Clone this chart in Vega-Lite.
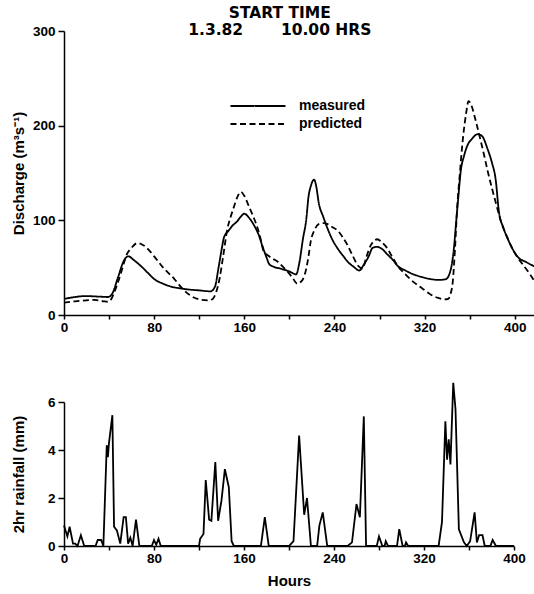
{
  "$schema": "https://vega.github.io/schema/vega-lite/v6.json",
  "background": "white",
  "padding": {"left": 10, "top": 5, "right": 0, "bottom": 5},
  "title": {
    "text": ["START TIME", "1.3.82\u00a0\u00a0\u00a0\u00a0\u00a0\u00a0\u00a010.00\u00a0HRS"],
    "font": "DejaVu Sans",
    "fontSize": 15.5,
    "fontWeight": "bold",
    "color": "black",
    "anchor": "middle",
    "lineHeight": 17,
    "offset": -14,
    "dx": 5
  },
  "config": {
    "view": {"stroke": null},
    "font": "Liberation Sans",
    "axis": {
      "grid": false,
      "domainColor": "black",
      "domainWidth": 1.5,
      "tickColor": "black",
      "tickWidth": 1.5,
      "tickSize": 6,
      "labelColor": "black",
      "labelFont": "Liberation Sans",
      "labelFontSize": 13.5,
      "labelFontWeight": "bold",
      "labelPadding": 3,
      "labelFlush": false,
      "labelOverlap": false,
      "titleColor": "black",
      "titleFont": "Liberation Sans",
      "titleFontSize": 15,
      "titleFontWeight": "bold"
    },
    "axisX": {"tickSize": 4, "labelPadding": 1}
  },
  "datasets": {
    "discharge": [
      {"t": 0, "q": 17, "series": "measured"},
      {"t": 10, "q": 19, "series": "measured"},
      {"t": 18, "q": 20, "series": "measured"},
      {"t": 30, "q": 19.5, "series": "measured"},
      {"t": 39, "q": 19, "series": "measured"},
      {"t": 43, "q": 23, "series": "measured"},
      {"t": 48, "q": 40, "series": "measured"},
      {"t": 53, "q": 57, "series": "measured"},
      {"t": 57, "q": 62, "series": "measured"},
      {"t": 62, "q": 58, "series": "measured"},
      {"t": 68, "q": 52, "series": "measured"},
      {"t": 74, "q": 45, "series": "measured"},
      {"t": 80, "q": 38, "series": "measured"},
      {"t": 88, "q": 33, "series": "measured"},
      {"t": 95, "q": 30, "series": "measured"},
      {"t": 104, "q": 28, "series": "measured"},
      {"t": 110, "q": 27, "series": "measured"},
      {"t": 120, "q": 26, "series": "measured"},
      {"t": 130, "q": 25, "series": "measured"},
      {"t": 134, "q": 30, "series": "measured"},
      {"t": 137, "q": 49, "series": "measured"},
      {"t": 140, "q": 70, "series": "measured"},
      {"t": 142, "q": 82, "series": "measured"},
      {"t": 146, "q": 89, "series": "measured"},
      {"t": 150, "q": 95, "series": "measured"},
      {"t": 153, "q": 98, "series": "measured"},
      {"t": 157, "q": 104, "series": "measured"},
      {"t": 160, "q": 107, "series": "measured"},
      {"t": 164, "q": 103, "series": "measured"},
      {"t": 169, "q": 94, "series": "measured"},
      {"t": 173, "q": 84, "series": "measured"},
      {"t": 176, "q": 73, "series": "measured"},
      {"t": 180, "q": 60, "series": "measured"},
      {"t": 182, "q": 54, "series": "measured"},
      {"t": 186, "q": 51, "series": "measured"},
      {"t": 192, "q": 49, "series": "measured"},
      {"t": 200, "q": 46, "series": "measured"},
      {"t": 206, "q": 43, "series": "measured"},
      {"t": 209, "q": 56, "series": "measured"},
      {"t": 212, "q": 80, "series": "measured"},
      {"t": 215, "q": 101, "series": "measured"},
      {"t": 217, "q": 125, "series": "measured"},
      {"t": 219, "q": 136, "series": "measured"},
      {"t": 222, "q": 143, "series": "measured"},
      {"t": 224, "q": 135, "series": "measured"},
      {"t": 226, "q": 119, "series": "measured"},
      {"t": 230, "q": 104, "series": "measured"},
      {"t": 234, "q": 91, "series": "measured"},
      {"t": 238, "q": 80, "series": "measured"},
      {"t": 243, "q": 70, "series": "measured"},
      {"t": 248, "q": 62, "series": "measured"},
      {"t": 252, "q": 56, "series": "measured"},
      {"t": 257, "q": 51, "series": "measured"},
      {"t": 262, "q": 47, "series": "measured"},
      {"t": 266, "q": 53, "series": "measured"},
      {"t": 270, "q": 61, "series": "measured"},
      {"t": 274, "q": 71, "series": "measured"},
      {"t": 278, "q": 72, "series": "measured"},
      {"t": 282, "q": 70, "series": "measured"},
      {"t": 287, "q": 64, "series": "measured"},
      {"t": 292, "q": 58, "series": "measured"},
      {"t": 296, "q": 52, "series": "measured"},
      {"t": 303, "q": 47, "series": "measured"},
      {"t": 310, "q": 43, "series": "measured"},
      {"t": 318, "q": 40, "series": "measured"},
      {"t": 325, "q": 38, "series": "measured"},
      {"t": 333, "q": 37, "series": "measured"},
      {"t": 339, "q": 38, "series": "measured"},
      {"t": 343, "q": 47, "series": "measured"},
      {"t": 346, "q": 70, "series": "measured"},
      {"t": 348, "q": 98, "series": "measured"},
      {"t": 350, "q": 125, "series": "measured"},
      {"t": 352, "q": 151, "series": "measured"},
      {"t": 355, "q": 168, "series": "measured"},
      {"t": 358, "q": 179, "series": "measured"},
      {"t": 362, "q": 186, "series": "measured"},
      {"t": 367, "q": 191, "series": "measured"},
      {"t": 371, "q": 189, "series": "measured"},
      {"t": 376, "q": 175, "series": "measured"},
      {"t": 380, "q": 160, "series": "measured"},
      {"t": 383, "q": 144, "series": "measured"},
      {"t": 386, "q": 109, "series": "measured"},
      {"t": 390, "q": 92, "series": "measured"},
      {"t": 394, "q": 80, "series": "measured"},
      {"t": 398, "q": 70, "series": "measured"},
      {"t": 403, "q": 61, "series": "measured"},
      {"t": 410, "q": 56, "series": "measured"},
      {"t": 418, "q": 51, "series": "measured"},
      {"t": 0, "q": 13, "series": "predicted"},
      {"t": 10, "q": 14.5, "series": "predicted"},
      {"t": 20, "q": 15.5, "series": "predicted"},
      {"t": 27, "q": 16, "series": "predicted"},
      {"t": 35, "q": 14.5, "series": "predicted"},
      {"t": 39, "q": 14, "series": "predicted"},
      {"t": 42, "q": 17, "series": "predicted"},
      {"t": 44, "q": 22, "series": "predicted"},
      {"t": 48, "q": 35, "series": "predicted"},
      {"t": 52, "q": 50, "series": "predicted"},
      {"t": 55, "q": 62, "series": "predicted"},
      {"t": 60, "q": 71, "series": "predicted"},
      {"t": 65, "q": 76, "series": "predicted"},
      {"t": 70, "q": 74, "series": "predicted"},
      {"t": 75, "q": 69, "series": "predicted"},
      {"t": 80, "q": 62, "series": "predicted"},
      {"t": 88, "q": 50, "series": "predicted"},
      {"t": 98, "q": 38, "series": "predicted"},
      {"t": 105, "q": 28, "series": "predicted"},
      {"t": 113, "q": 20, "series": "predicted"},
      {"t": 122, "q": 16, "series": "predicted"},
      {"t": 128, "q": 15.5, "series": "predicted"},
      {"t": 132, "q": 17, "series": "predicted"},
      {"t": 135, "q": 24, "series": "predicted"},
      {"t": 138, "q": 38, "series": "predicted"},
      {"t": 141, "q": 60, "series": "predicted"},
      {"t": 145, "q": 91, "series": "predicted"},
      {"t": 148, "q": 104, "series": "predicted"},
      {"t": 151, "q": 115, "series": "predicted"},
      {"t": 154, "q": 125, "series": "predicted"},
      {"t": 157, "q": 130, "series": "predicted"},
      {"t": 160, "q": 126, "series": "predicted"},
      {"t": 164, "q": 115, "series": "predicted"},
      {"t": 168, "q": 104, "series": "predicted"},
      {"t": 172, "q": 91, "series": "predicted"},
      {"t": 175, "q": 78, "series": "predicted"},
      {"t": 177, "q": 68, "series": "predicted"},
      {"t": 182, "q": 62, "series": "predicted"},
      {"t": 186, "q": 59, "series": "predicted"},
      {"t": 190, "q": 56, "series": "predicted"},
      {"t": 195, "q": 50, "series": "predicted"},
      {"t": 199, "q": 45, "series": "predicted"},
      {"t": 203, "q": 39, "series": "predicted"},
      {"t": 207, "q": 33, "series": "predicted"},
      {"t": 211, "q": 36, "series": "predicted"},
      {"t": 215, "q": 49, "series": "predicted"},
      {"t": 217, "q": 62, "series": "predicted"},
      {"t": 219, "q": 78, "series": "predicted"},
      {"t": 222, "q": 89, "series": "predicted"},
      {"t": 226, "q": 96, "series": "predicted"},
      {"t": 230, "q": 97, "series": "predicted"},
      {"t": 234, "q": 96, "series": "predicted"},
      {"t": 238, "q": 93, "series": "predicted"},
      {"t": 243, "q": 89, "series": "predicted"},
      {"t": 248, "q": 81, "series": "predicted"},
      {"t": 252, "q": 73, "series": "predicted"},
      {"t": 256, "q": 63, "series": "predicted"},
      {"t": 261, "q": 52, "series": "predicted"},
      {"t": 265, "q": 49, "series": "predicted"},
      {"t": 268, "q": 60, "series": "predicted"},
      {"t": 272, "q": 73, "series": "predicted"},
      {"t": 276, "q": 79, "series": "predicted"},
      {"t": 278, "q": 80, "series": "predicted"},
      {"t": 282, "q": 77, "series": "predicted"},
      {"t": 286, "q": 72, "series": "predicted"},
      {"t": 291, "q": 62, "series": "predicted"},
      {"t": 296, "q": 52, "series": "predicted"},
      {"t": 303, "q": 43, "series": "predicted"},
      {"t": 310, "q": 35, "series": "predicted"},
      {"t": 318, "q": 28, "series": "predicted"},
      {"t": 325, "q": 22, "series": "predicted"},
      {"t": 332, "q": 18, "series": "predicted"},
      {"t": 338, "q": 16.5, "series": "predicted"},
      {"t": 341, "q": 17, "series": "predicted"},
      {"t": 343, "q": 22, "series": "predicted"},
      {"t": 345, "q": 35, "series": "predicted"},
      {"t": 347, "q": 70, "series": "predicted"},
      {"t": 349, "q": 115, "series": "predicted"},
      {"t": 351, "q": 145, "series": "predicted"},
      {"t": 354, "q": 186, "series": "predicted"},
      {"t": 357, "q": 214, "series": "predicted"},
      {"t": 359, "q": 226, "series": "predicted"},
      {"t": 362, "q": 220, "series": "predicted"},
      {"t": 365, "q": 207, "series": "predicted"},
      {"t": 369, "q": 188, "series": "predicted"},
      {"t": 373, "q": 168, "series": "predicted"},
      {"t": 376, "q": 152, "series": "predicted"},
      {"t": 380, "q": 133, "series": "predicted"},
      {"t": 384, "q": 115, "series": "predicted"},
      {"t": 388, "q": 98, "series": "predicted"},
      {"t": 393, "q": 83, "series": "predicted"},
      {"t": 398, "q": 70, "series": "predicted"},
      {"t": 403, "q": 60, "series": "predicted"},
      {"t": 408, "q": 52, "series": "predicted"},
      {"t": 413, "q": 44, "series": "predicted"},
      {"t": 418, "q": 35, "series": "predicted"}
    ],
    "rain": [
      {"t": 0, "r": 0.85}, {"t": 3, "r": 0.4}, {"t": 5, "r": 0.8}, {"t": 8, "r": 0.1},
      {"t": 10, "r": 0.1}, {"t": 12, "r": 0}, {"t": 15, "r": 0.45}, {"t": 18, "r": 0},
      {"t": 28, "r": 0}, {"t": 30, "r": 0.25}, {"t": 33, "r": 0.25}, {"t": 35, "r": 0},
      {"t": 38, "r": 4.2}, {"t": 39, "r": 3.7}, {"t": 40, "r": 4.3}, {"t": 43, "r": 5.45},
      {"t": 44.5, "r": 0.8}, {"t": 47, "r": 0.65}, {"t": 50, "r": 0.1}, {"t": 53, "r": 1.2},
      {"t": 55, "r": 1.2}, {"t": 57, "r": 0.1}, {"t": 59, "r": 0.35}, {"t": 61, "r": 0},
      {"t": 64, "r": 1.1}, {"t": 67, "r": 0}, {"t": 78, "r": 0}, {"t": 80, "r": 0.25},
      {"t": 82, "r": 0.05}, {"t": 84, "r": 0.3}, {"t": 86, "r": 0}, {"t": 120, "r": 0},
      {"t": 121, "r": 0.3}, {"t": 124, "r": 0.5}, {"t": 126, "r": 2.75}, {"t": 129, "r": 1.1},
      {"t": 131, "r": 1.05}, {"t": 134.5, "r": 3.5}, {"t": 137, "r": 1.05}, {"t": 140, "r": 1.9},
      {"t": 143, "r": 3.2}, {"t": 146.5, "r": 2.45}, {"t": 149, "r": 0.2}, {"t": 151, "r": 0},
      {"t": 175, "r": 0}, {"t": 178.5, "r": 1.2}, {"t": 182, "r": 0}, {"t": 200, "r": 0},
      {"t": 204, "r": 0.2}, {"t": 209, "r": 4.6}, {"t": 213.5, "r": 1.3}, {"t": 216, "r": 2.0},
      {"t": 219.5, "r": 0}, {"t": 225, "r": 0}, {"t": 227, "r": 0.85}, {"t": 230, "r": 1.4},
      {"t": 234, "r": 0}, {"t": 252, "r": 0}, {"t": 256, "r": 0.15}, {"t": 260, "r": 1.75},
      {"t": 263, "r": 1.2}, {"t": 266.5, "r": 5.4}, {"t": 268.5, "r": 0}, {"t": 278, "r": 0},
      {"t": 280, "r": 0.4}, {"t": 283, "r": 0}, {"t": 285, "r": 0}, {"t": 286, "r": 0.2},
      {"t": 288, "r": 0}, {"t": 296, "r": 0}, {"t": 298, "r": 0.7}, {"t": 301, "r": 0},
      {"t": 303, "r": 0}, {"t": 304, "r": 0.15}, {"t": 306, "r": 0}, {"t": 333, "r": 0},
      {"t": 336, "r": 1.0}, {"t": 339, "r": 5.2}, {"t": 340.5, "r": 3.6}, {"t": 342, "r": 4.45},
      {"t": 343.5, "r": 3.4}, {"t": 346, "r": 6.8}, {"t": 348, "r": 5.7}, {"t": 351, "r": 0.7},
      {"t": 355.5, "r": 0.15}, {"t": 358, "r": 0}, {"t": 361, "r": 0.2}, {"t": 365, "r": 1.4},
      {"t": 367, "r": 0.15}, {"t": 369, "r": 0.45}, {"t": 372, "r": 0.45}, {"t": 374, "r": 0},
      {"t": 379, "r": 0}, {"t": 381, "r": 0.25}, {"t": 384, "r": 0}, {"t": 400, "r": 0}
    ]
  },
  "bounds": "flush",
  "spacing": 87,
  "vconcat": [
    {
      "width": 471,
      "height": 284,
      "data": {"name": "discharge"},
      "mark": {"type": "line", "interpolate": "monotone", "stroke": "black", "strokeWidth": 1.8},
      "encoding": {
        "x": {
          "field": "t", "type": "quantitative",
          "scale": {"domain": [0, 418], "nice": false, "zero": false},
          "axis": {
            "title": null,
            "values": [0, 40, 80, 120, 160, 200, 240, 280, 320, 360, 400],
            "labelExpr": "datum.value % 80 === 0 ? datum.label : ''"
          }
        },
        "y": {
          "field": "q", "type": "quantitative",
          "scale": {"domain": [0, 300], "nice": false},
          "axis": {"title": "Discharge (m³s⁻¹)", "values": [0, 100, 200, 300], "minExtent": 33, "titlePadding": 5}
        },
        "strokeDash": {
          "field": "series", "type": "nominal",
          "scale": {"domain": ["measured", "predicted"], "range": [[1, 0], [6, 3.5]]},
          "legend": {
            "title": null,
            "orient": "none",
            "legendX": 187,
            "legendY": 68,
            "padding": 0,
            "symbolType": "M-5,0H5",
            "symbolSize": 121,
            "symbolStrokeWidth": 1.8,
            "symbolStrokeColor": "black",
            "labelFont": "Liberation Sans",
            "labelFontSize": 14,
            "labelFontWeight": "bold",
            "labelColor": "black",
            "labelOffset": 34,
            "rowPadding": 4
          }
        }
      }
    },
    {
      "width": 450,
      "height": 144,
      "data": {"name": "rain"},
      "mark": {"type": "line", "stroke": "black", "strokeWidth": 1.8, "clip": false},
      "encoding": {
        "x": {
          "field": "t", "type": "quantitative",
          "scale": {"domain": [0, 400], "nice": false},
          "axis": {
            "title": "Hours",
            "values": [0, 40, 80, 120, 160, 200, 240, 280, 320, 360, 400],
            "labelExpr": "datum.value % 80 === 0 ? datum.label : ''",
            "titlePadding": 9
          }
        },
        "y": {
          "field": "r", "type": "quantitative",
          "scale": {"domain": [0, 6], "nice": false},
          "axis": {"title": "2hr rainfall (mm)", "values": [0, 2, 4, 6], "minExtent": 33, "titlePadding": 5}
        }
      }
    }
  ]
}
